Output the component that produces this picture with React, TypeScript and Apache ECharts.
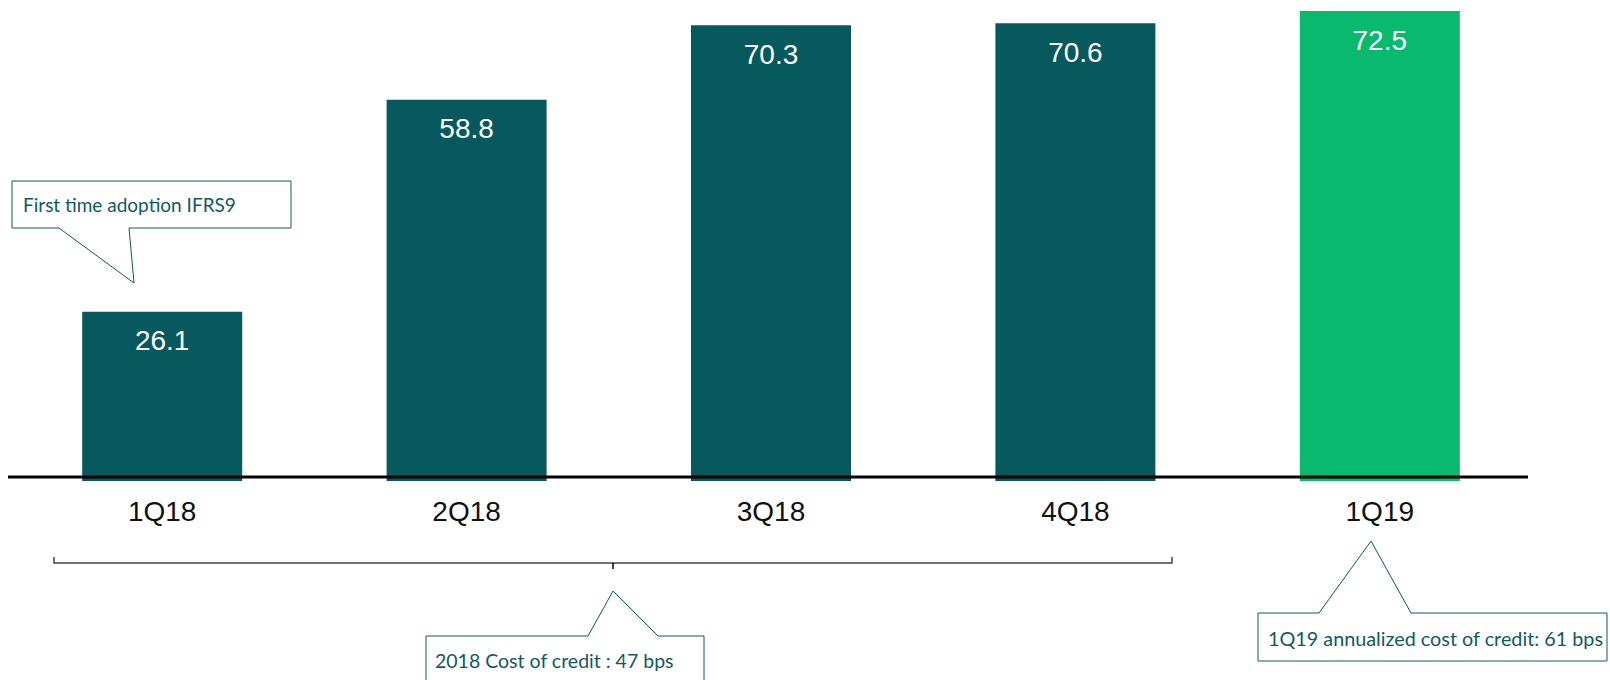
import React, { useEffect, useRef } from "react";
import * as echarts from "echarts";

const categories = ["1Q18", "2Q18", "3Q18", "4Q18", "1Q19"];
const values = [26.1, 58.8, 70.3, 70.6, 72.5];
const highlightIndex = 4;

const calloutTexts = [
  "First time adoption IFRS9",
  "2018 Cost of credit : 47 bps",
  "1Q19 annualized cost of credit: 61 bps",
];

const DARK = "#07595e";
const GREEN = "#08b96e";
const TEAL_TEXT = "#0f5a62";
const CALLOUT_FONT = "Lato, 'Open Sans', sans-serif";

export default function App() {
  const ref = useRef<HTMLDivElement>(null);

  useEffect(() => {
    if (!ref.current) return;
    const chart = echarts.init(ref.current, null, { renderer: "svg" });
    const option: any = {
      animation: false,
      backgroundColor: "#ffffff",
      grid: { left: 10, top: 11, width: 1522, height: 470, containLabel: false },
      xAxis: {
        type: "category",
        data: categories,
        axisLine: { show: false },
        axisTick: { show: false },
        axisLabel: {
          color: "#111",
          fontSize: 28,
          fontFamily: "'Liberation Sans', Arial, sans-serif",
          margin: 16,
        },
      },
      yAxis: {
        type: "value",
        min: 0,
        max: 72.5,
        show: false,
        splitLine: { show: false },
      },
      series: [
        {
          type: "bar",
          barWidth: 160,
          data: values.map((v, i) => ({
            value: v,
            itemStyle: { color: i === highlightIndex ? GREEN : DARK },
          })),
          label: {
            show: true,
            position: "insideTop",
            distance: 15,
            color: "#ffffff",
            fontSize: 28,
            fontFamily: "'Liberation Sans', Arial, sans-serif",
            formatter: (p: any) => p.value.toFixed(1),
          },
        },
      ],
      graphic: [
        {
          type: "line",
          z: 100,
          shape: { x1: 8, y1: 477, x2: 1528, y2: 477 },
          style: { stroke: "#000", lineWidth: 3 },
        },
        {
          type: "polyline",
          z: 100,
          shape: { points: [[54, 557], [54, 563], [1172, 563], [1172, 557]] },
          style: { stroke: "#444", lineWidth: 1.5, fill: null },
        },
        {
          type: "line",
          z: 100,
          shape: { x1: 613, y1: 563, x2: 613, y2: 569 },
          style: { stroke: "#000", lineWidth: 1.5 },
        },
        {
          type: "polygon",
          z: 100,
          shape: {
            points: [[12, 181], [291, 181], [291, 228], [129, 228], [134, 283], [59, 228], [12, 228]],
          },
          style: { fill: "#fff", stroke: TEAL_TEXT, lineWidth: 1 },
        },
        {
          type: "text",
          z: 101,
          x: 23,
          y: 204,
          style: {
            text: calloutTexts[0],
            fill: TEAL_TEXT,
            font: `19px ${CALLOUT_FONT}`,
            verticalAlign: "middle",
          },
        },
        {
          type: "polygon",
          z: 100,
          shape: {
            points: [[426, 700], [426, 636], [588, 636], [613, 591], [658, 636], [704, 636], [704, 700]],
          },
          style: { fill: "#fff", stroke: TEAL_TEXT, lineWidth: 1 },
        },
        {
          type: "text",
          z: 101,
          x: 435,
          y: 660,
          style: {
            text: calloutTexts[1],
            fill: TEAL_TEXT,
            font: `19.5px ${CALLOUT_FONT}`,
            verticalAlign: "middle",
          },
        },
        {
          type: "polygon",
          z: 100,
          shape: {
            points: [[1258, 661], [1258, 613], [1319, 613], [1371, 541], [1411, 613], [1607, 613], [1607, 661]],
          },
          style: { fill: "#fff", stroke: TEAL_TEXT, lineWidth: 1 },
        },
        {
          type: "text",
          z: 101,
          x: 1268,
          y: 638,
          style: {
            text: calloutTexts[2],
            fill: TEAL_TEXT,
            font: `19.8px ${CALLOUT_FONT}`,
            verticalAlign: "middle",
          },
        },
      ],
    };
    chart.setOption(option);
    return () => chart.dispose();
  }, []);

  return (
    <div
      ref={ref}
      style={{ position: "absolute", left: 0, top: 0, width: 1610, height: 680 }}
    />
  );
}
